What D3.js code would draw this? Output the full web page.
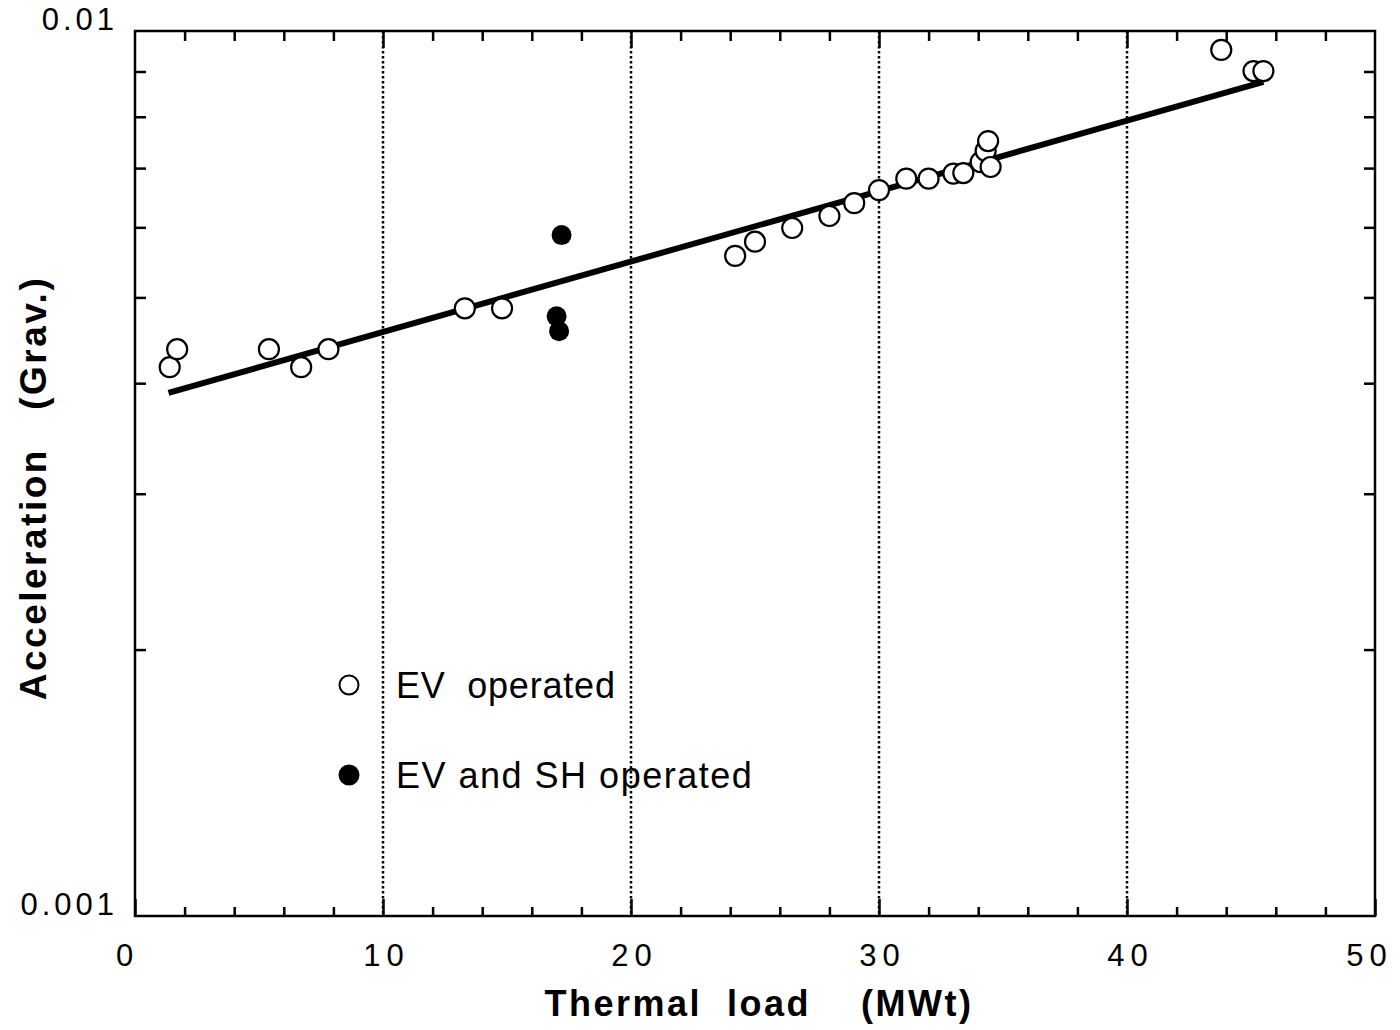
<!DOCTYPE html>
<html>
<head>
<meta charset="utf-8">
<script src="https://cdn.jsdelivr.net/npm/d3@7"></script>
<style>
  body { margin: 0; background: #fff; }
  svg text { font-family: "Liberation Sans", Arial, Helvetica, sans-serif; fill: #000; }
</style>
</head>
<body>
<div class="container"></div>
<script>
// data
var evLoad = [1.4, 1.7, 5.4, 6.7, 7.8, 13.3, 14.8, 24.2, 25.0, 26.5, 28.0, 29.0, 30.0,
              31.1, 32.0, 33.0, 33.4, 34.1, 34.3, 34.4, 34.5, 43.8, 45.1, 45.5];
var evAccel = [0.00417, 0.00437, 0.00437, 0.00417, 0.00437, 0.00486, 0.00486, 0.00557,
               0.00578, 0.00599, 0.00618, 0.00639, 0.00661, 0.00681, 0.00681, 0.00690,
               0.00691, 0.00711, 0.00732, 0.00751, 0.00702, 0.00952, 0.00901, 0.00901];
var shLoad = [17.2, 17.0, 17.1];
var shAccel = [0.00588, 0.00476, 0.00458];
var fitLoad = [1.35, 45.5];
var fitAccel = [0.00390, 0.00876];

var xMajor = [0, 10, 20, 30, 40, 50];
var xMinor = [2, 4, 6, 8, 12, 14, 16, 18, 22, 24, 26, 28, 32, 34, 36, 38, 42, 44, 46, 48];
var yLabels = [0.001, 0.01];
var yMinor = [0.002, 0.003, 0.004, 0.005, 0.006, 0.007, 0.008, 0.009];
var gridAt = [10, 20, 30, 40];

var legendItems = ['EV  operated', 'EV and SH operated'];

var W = 1400, H = 1030;
var mLeft = 135, mRight = 1375, mTop = 31, mBottom = 916;

var svg = d3.select('.container').append('svg')
  .attr('width', W)
  .attr('height', H);

var x = d3.scaleLinear().domain([0, 50]).range([mLeft, mRight]);
var y = d3.scaleLog().domain([0.001, 0.01]).range([mBottom, mTop]);

// dotted grid lines
svg.append('g').selectAll('line').data(gridAt).enter().append('line')
  .attr('x1', function(d) { return x(d); })
  .attr('x2', function(d) { return x(d); })
  .attr('y1', mTop)
  .attr('y2', mBottom)
  .attr('stroke', '#000')
  .attr('stroke-width', 2.5)
  .attr('stroke-dasharray', '2.5,2.5');

// axes: ticks point inward
var styleAxis = function(g) {
  g.select('.domain').remove();
  g.selectAll('.tick line').attr('stroke', '#000').attr('stroke-width', 2.5);
};

svg.append('g').attr('transform', 'translate(0,' + mBottom + ')')
  .call(d3.axisBottom(x).tickValues(xMinor).tickSize(-9).tickFormat(''))
  .call(styleAxis);
svg.append('g').attr('transform', 'translate(0,' + mTop + ')')
  .call(d3.axisTop(x).tickValues(xMinor).tickSize(-10).tickFormat(''))
  .call(styleAxis);
svg.append('g').attr('transform', 'translate(0,' + mTop + ')')
  .call(d3.axisTop(x).tickValues(gridAt).tickSize(-17).tickFormat(''))
  .call(styleAxis);

var xAxis = svg.append('g').attr('transform', 'translate(0,' + mBottom + ')')
  .call(d3.axisBottom(x).tickValues(xMajor).tickSize(-17).tickPadding(28).tickFormat(d3.format('d')))
  .call(styleAxis);
xAxis.selectAll('.tick text')
  .attr('font-size', 31)
  .attr('letter-spacing', 6)
  .attr('dx', function(d) { return d === 0 ? -8 : (d === 50 ? -6 : 3); });

svg.append('g').attr('transform', 'translate(' + mLeft + ',0)')
  .call(d3.axisLeft(y).tickValues(yMinor).tickSize(-11).tickFormat(''))
  .call(styleAxis);
svg.append('g').attr('transform', 'translate(' + mRight + ',0)')
  .call(d3.axisRight(y).tickValues(yMinor).tickSize(-11).tickFormat(''))
  .call(styleAxis);

var yAxis = svg.append('g').attr('transform', 'translate(' + mLeft + ',0)')
  .call(d3.axisLeft(y).tickValues(yLabels).tickSize(0).tickPadding(17).tickFormat(function(d) { return d === 0.01 ? '0.01' : '0.001'; }))
  .call(styleAxis);
yAxis.selectAll('.tick text')
  .attr('font-size', 31)
  .attr('letter-spacing', 4)
  .attr('dy', '-0.05em');

// frame
svg.append('rect')
  .attr('x', mLeft).attr('y', mTop)
  .attr('width', mRight - mLeft).attr('height', mBottom - mTop)
  .attr('fill', 'none')
  .attr('stroke', '#000')
  .attr('stroke-width', 2.5);

// fitted line
var fit = fitLoad.map(function(d, i) { return [d, fitAccel[i]]; });
svg.append('path')
  .datum(fit)
  .attr('d', d3.line().x(function(d) { return x(d[0]); }).y(function(d) { return y(d[1]); }))
  .attr('fill', 'none')
  .attr('stroke', '#000')
  .attr('stroke-width', 6);

// points
var ev = evLoad.map(function(d, i) { return [d, evAccel[i]]; });
var sh = shLoad.map(function(d, i) { return [d, shAccel[i]]; });

svg.append('g').selectAll('circle').data(ev).enter().append('circle')
  .attr('cx', function(d) { return x(d[0]); })
  .attr('cy', function(d) { return y(d[1]); })
  .attr('r', 10)
  .attr('fill', '#fff')
  .attr('stroke', '#000')
  .attr('stroke-width', 2.2);

svg.append('g').selectAll('circle').data(sh).enter().append('circle')
  .attr('cx', function(d) { return x(d[0]); })
  .attr('cy', function(d) { return y(d[1]); })
  .attr('r', 10)
  .attr('fill', '#000');

// legend
var legend = svg.append('g').attr('transform', 'translate(349,685)');
legend.selectAll('circle').data(legendItems).enter().append('circle')
  .attr('cx', 0)
  .attr('cy', function(d, i) { return i * 90; })
  .attr('r', 9.5)
  .attr('fill', function(d, i) { return i === 0 ? '#fff' : '#000'; })
  .attr('stroke', '#000')
  .attr('stroke-width', 2);
legend.selectAll('text').data(legendItems).enter().append('text')
  .attr('x', 47)
  .attr('y', function(d, i) { return i * 90 + 13; })
  .attr('font-size', 36)
  .attr('letter-spacing', function(d, i) { return i === 0 ? 0.8 : 1.5; })
  .style('white-space', 'pre')
  .text(function(d) { return d; });

// axis titles
svg.append('text')
  .attr('x', 759)
  .attr('y', 1016)
  .attr('text-anchor', 'middle')
  .attr('font-size', 36)
  .attr('font-weight', 'bold')
  .attr('letter-spacing', 2.5)
  .style('white-space', 'pre')
  .text('Thermal  load    (MWt)');

svg.append('text')
  .attr('transform', 'translate(46,488) rotate(-90)')
  .attr('text-anchor', 'middle')
  .attr('font-size', 37)
  .attr('font-weight', 'bold')
  .attr('letter-spacing', 2.5)
  .style('white-space', 'pre')
  .text('Acceleration   (Grav.)');
</script>
</body>
</html>
